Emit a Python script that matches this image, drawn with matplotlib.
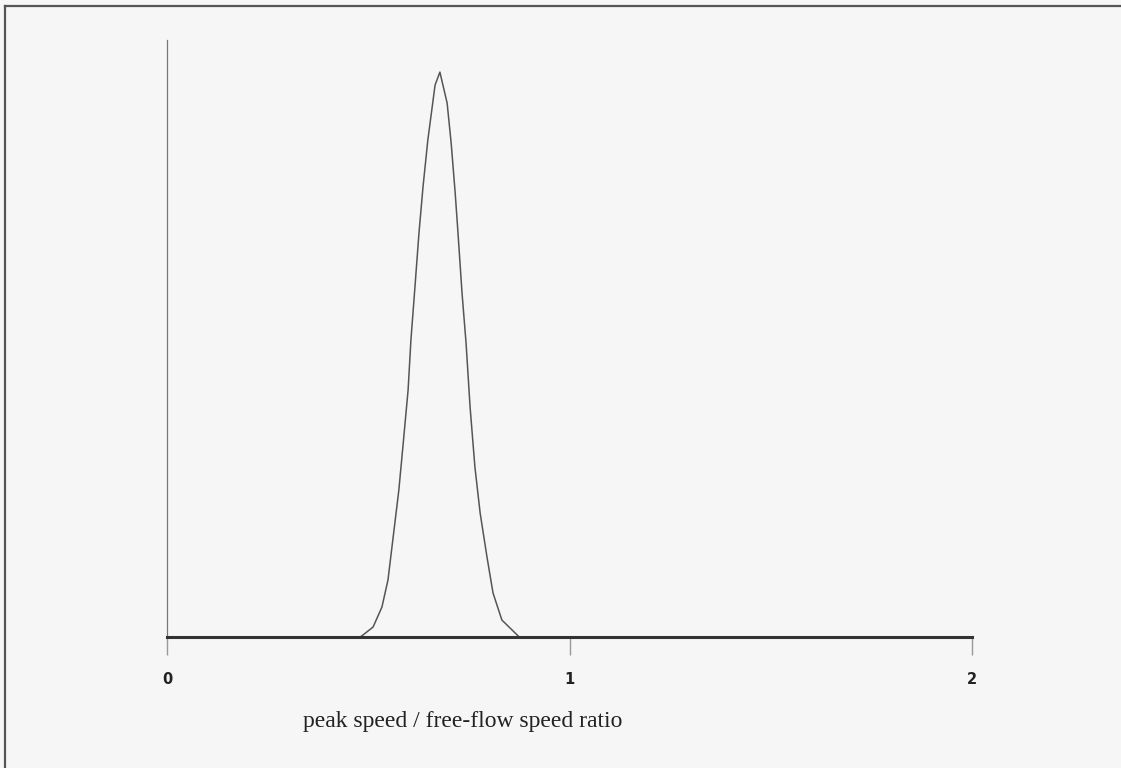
import matplotlib
matplotlib.use("Agg")
import matplotlib.pyplot as plt
from matplotlib.lines import Line2D

# Data (x: peak speed / free-flow speed ratio, y: relative frequency)
ratio = [0.48, 0.487, 0.512, 0.534, 0.549, 0.561, 0.576, 0.586, 0.599, 0.606, 0.616,
         0.626, 0.636, 0.648, 0.666, 0.678, 0.696, 0.706, 0.716, 0.723, 0.733,
         0.743, 0.753, 0.765, 0.778, 0.795, 0.810, 0.832, 0.870, 0.875]
freq = [0.0, 0.024, 0.118, 0.355, 0.675, 1.148, 1.740, 2.250, 2.924, 3.516, 4.144,
        4.783, 5.328, 5.884, 6.536, 6.690, 6.322, 5.849, 5.257, 4.783, 4.073,
        3.481, 2.723, 2.013, 1.468, 0.947, 0.521, 0.201, 0.024, 0.0]
x_ticks = [0, 1, 2]
x_tick_labels = ["0", "1", "2"]
x_label = "peak speed / free-flow speed ratio"

W, H = 1121, 768
fig = plt.figure(figsize=(W / 100, H / 100), dpi=100, facecolor="#f6f6f6")
ax = fig.add_axes([167 / W, 1 - 637 / H, (972 - 167) / W, (637 - 40) / H])
ax.set_facecolor("none")

ax.plot(ratio, freq, color="#555555", lw=1.1, solid_capstyle="round")

ax.set_xlim(0, 2)
ax.set_ylim(0, 7.07)
ax.spines["top"].set_visible(False)
ax.spines["right"].set_visible(False)
ax.spines["left"].set_color("#777777")
ax.spines["left"].set_linewidth(0.9)
ax.spines["bottom"].set_color("#333333")
ax.spines["bottom"].set_linewidth(2.2)
ax.set_yticks([])
ax.set_xticks(x_ticks)
ax.set_xticklabels(x_tick_labels, fontsize=10.5, fontweight="bold",
                   family="DejaVu Sans", color="#222222")
ax.tick_params(axis="x", direction="out", length=13, width=1.0,
               color="#999999", pad=12)

fig.text(463 / W, 1 - 722 / H, x_label, ha="center", va="center",
         fontsize=17, family="Liberation Serif", color="#222222")

# scanned page frame (left and top edges)
fig.add_artist(Line2D([5 / W, 5 / W], [0, 1 - 6 / H], transform=fig.transFigure,
                      color="#555555", lw=1.6))
fig.add_artist(Line2D([5 / W, 1], [1 - 6 / H, 1 - 6 / H], transform=fig.transFigure,
                      color="#555555", lw=1.6))

fig.savefig("out.png", dpi=100, facecolor=fig.get_facecolor())
